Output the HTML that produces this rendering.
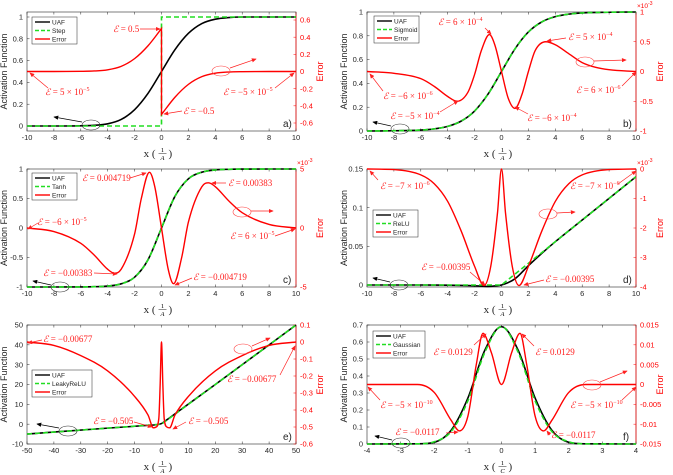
<!DOCTYPE html>
<html><head><meta charset="utf-8">
<style>
html,body{margin:0;padding:0;background:#fff;}
svg{display:block;font-family:"Liberation Sans",sans-serif;}
.ann{font-family:"Liberation Serif",serif;font-size:9px;fill:#ff2020;}
.tk{font-size:7.5px;}
</style></head>
<body>
<svg id="fig" width="673" height="475" viewBox="0 0 673 475">
<defs>
<marker id="ar" markerWidth="7" markerHeight="6" refX="6" refY="3" orient="auto"><path d="M0,0 L7,3 L0,6 Z" fill="#ff2020"/></marker>
<marker id="ak" markerWidth="7" markerHeight="6" refX="6" refY="3" orient="auto"><path d="M0,0 L7,3 L0,6 Z" fill="#000"/></marker>
</defs>
</svg>
<script>
// ---------- data ----------
// panel a
const aUafX=[-10,-8,-6,-5,-4,-3,-2,-1,0,1,2,3,4,5,6,8,10];
const aUafY=[0,0,0.002,0.006,0.02,0.06,0.15,0.3,0.5,0.7,0.85,0.94,0.98,0.995,1,1,1];
const aStepX=[-10,0,null,0,10];
const aStepY=[0,0,null,1,1];
const aErrX=[-10,-8,-6,-5,-4,-3,-2,-1,0,null,0,1,2,3,4,5,6,8,10];
const aErrY=[0,0,0.002,0.006,0.02,0.06,0.15,0.3,0.5,null,-0.5,-0.3,-0.15,-0.06,-0.02,-0.006,-0.002,0,0];
// panel b
const bUafX=[-10,-8,-6,-5,-4,-3,-2,-1,0,1,2,3,4,5,6,8,10];
const bUafY=[0,0.002,0.008,0.018,0.039,0.083,0.168,0.31,0.5,0.69,0.832,0.917,0.961,0.982,0.992,0.998,1];
const bSigY=[0,0.002,0.008,0.018,0.039,0.083,0.168,0.31,0.5,0.69,0.832,0.917,0.961,0.982,0.992,0.998,1];
const bErrX=[-10,-8,-6,-5,-4,-3.3,-2.5,-2,-1.5,-0.9,-0.5,0,0.5,1,1.5,2,2.5,3.3,4,5,6,7,8,10];
const bErrY=[0,-0.03,-0.12,-0.25,-0.42,-0.5,-0.35,-0.05,0.35,0.62,0.45,0,-0.45,-0.62,-0.4,0,0.35,0.5,0.45,0.3,0.15,0.07,0.03,0];
// panel c
const cUafX=[-10,-8,-6,-5,-4,-3,-2,-1,0,1,2,3,4,5,6,8,10];
const cUafY=[-1,-0.9998,-0.9985,-0.995,-0.984,-0.946,-0.834,-0.537,0,0.537,0.834,0.946,0.984,0.995,0.9985,0.9998,1];
const cTanhY=[-1,-0.9998,-0.9985,-0.995,-0.984,-0.946,-0.834,-0.537,0,0.537,0.834,0.946,0.984,0.995,0.9985,0.9998,1];
const cErrX=[-10,-8,-6,-5,-4,-3.5,-3,-2,-1.5,-0.9,-0.5,0,0.5,0.9,1.5,2,3,3.5,4,5,6,8,10];
const cErrY=[0,-0.3,-1.3,-2.3,-3.5,-3.83,-3.5,-0.5,2.5,4.72,3.5,0,-3.5,-4.72,-2.5,0.5,3.5,3.83,3.5,2.3,1.3,0.3,0];
// panel d
const dUafX=[-10,-6,-4,-2,-1,-0.5,0,1,2,3,4,6,8,10];
const dUafY=[0,0,-0.0002,-0.001,-0.0018,-0.0012,0,0.008,0.025,0.041,0.056,0.084,0.112,0.14];
const dReluX=[-10,0,10];
const dReluY=[0,0,0.14];
const dErrX=[-10,-8,-6,-5,-4,-3,-2,-1.3,-0.8,-0.3,0,0.3,0.8,1.3,2,3,4,5,6,8,10];
const dErrY=[0,-0.02,-0.2,-0.5,-1.1,-2.1,-3.3,-3.95,-3.3,-1.5,0,-1.5,-3.3,-3.95,-3.3,-2.1,-1.1,-0.5,-0.2,-0.02,0];
// panel e
const eUafX=[-50,-20,-5,-2,0,2,5,20,50];
const eUafY=[-5,-2,-0.6,-0.3,0.3,2.2,5.2,20,50];
const eLeakyX=[-50,0,50];
const eLeakyY=[-5,0,50];
const eErrX=[-50,-40,-30,-20,-10,-5,-3,-2,-1,-0.5,0,0.5,1,2,3,5,10,20,30,40,50];
const eErrY=[0,-0.02,-0.08,-0.17,-0.32,-0.43,-0.505,-0.5,-0.45,-0.25,0,-0.25,-0.45,-0.5,-0.505,-0.43,-0.32,-0.17,-0.08,-0.02,0];
// panel f
const fUafX=[-4,-2.5,-2,-1.5,-1,-0.5,0,0.5,1,1.5,2,2.5,4];
const fUafY=[0,0.001,0.01,0.08,0.27,0.55,0.69,0.55,0.27,0.08,0.01,0.001,0];
const fGaussY=[0,0.001,0.013,0.073,0.254,0.537,0.69,0.537,0.254,0.073,0.013,0.001,0];
const fErrX=[-4,-2.5,-2,-1.5,-1.25,-1,-0.75,-0.55,-0.3,0,0.3,0.55,0.75,1,1.25,1.5,2,2.5,4];
const fErrY=[0,0,-0.002,-0.009,-0.0117,-0.008,0.005,0.0129,0.008,0,0.008,0.0129,0.005,-0.008,-0.0117,-0.009,-0.002,0,0];

// ---------- helpers ----------
const svg=document.getElementById('fig');
const NS='http://www.w3.org/2000/svg';
function mk(tag,attrs,parent){const e=document.createElementNS(NS,tag);for(const k in attrs)e.setAttribute(k,attrs[k]);(parent||svg).appendChild(e);return e;}
function lin(v1,p1,v2,p2){return v=>p1+(v-v1)*(p2-p1)/(v2-v1);}
function mono(pts,linear){
  const n=pts.length; if(n<2) return '';
  let d='';
  if(n===2||linear){for(let i=1;i<n;i++)d+='L'+pts[i][0].toFixed(2)+','+pts[i][1].toFixed(2);return d;}
  const dx=[],s=[],m=[];
  for(let i=0;i<n-1;i++){dx.push(pts[i+1][0]-pts[i][0]);s.push((pts[i+1][1]-pts[i][1])/dx[i]);}
  m[0]=s[0];m[n-1]=s[n-2];
  for(let i=1;i<n-1;i++){m[i]=(s[i-1]*s[i]<=0)?0:(s[i-1]+s[i])/2;}
  for(let i=0;i<n-1;i++){if(s[i]===0){m[i]=0;m[i+1]=0;continue;}const a=m[i]/s[i],b=m[i+1]/s[i],h=a*a+b*b;if(h>9){const t=3/Math.sqrt(h);m[i]=t*a*s[i];m[i+1]=t*b*s[i];}}
  for(let i=0;i<n-1;i++){const h=dx[i];
    d+='C'+(pts[i][0]+h/3).toFixed(2)+','+(pts[i][1]+m[i]*h/3).toFixed(2)+' '+(pts[i+1][0]-h/3).toFixed(2)+','+(pts[i+1][1]-m[i+1]*h/3).toFixed(2)+' '+pts[i+1][0].toFixed(2)+','+pts[i+1][1].toFixed(2);}
  return d;
}
function seriesPath(xs,ys,X,Y,linear){
  const segs=[[]];
  for(let i=0;i<xs.length;i++){if(xs[i]===null){segs.push([]);continue;}segs[segs.length-1].push([X(xs[i]),Y(ys[i])]);}
  let d='';
  segs.forEach((sg,k)=>{if(!sg.length)return;d+=(k===0?'M':'L')+sg[0][0].toFixed(2)+','+sg[0][1].toFixed(2)+mono(sg,linear);});
  return d;
}
function ann(x,y,main,sup,anchor,parent){
  const t=mk('text',{x:x,y:y,'class':'ann','text-anchor':anchor||'start'},parent);
  
  
  const a=mk('tspan',{'font-style':'italic'},t);a.textContent='ℰ';
  const b=mk('tspan',{},t);b.textContent=' = '+main;
  if(sup){const c=mk('tspan',{dy:-4,'font-size':'6px'},t);c.textContent=sup;}
  return t;
}
function arrow(x1,y1,x2,y2,col,parent){
  const l=mk('line',{x1:x1,y1:y1,x2:x2,y2:y2,stroke:col==='k'?'#000':'#ff2020','stroke-width':0.7,'marker-end':col==='k'?'url(#ak)':'url(#ar)'},parent);
  
  
}
function ell(cx,cy,col,parent){
  const e=mk('ellipse',{cx:cx,cy:cy,rx:9,ry:5,fill:'none',stroke:col==='k'?'#333':'#ff4040','stroke-width':0.6},parent);
  
  
}
function fmt(v){return (Math.round(v*10000)/10000).toString();}

function panel(P){
  const g=mk('g',{});
  
  
  const X=lin(P.xd[0],P.x0,P.xd[1],P.x1);
  const YL=lin(P.la[0],P.la[1],P.la[2],P.la[3]);
  const YR=lin(P.ra[0],P.ra[1],P.ra[2],P.ra[3]);
  const bx=mk('rect',{x:P.x0,y:P.y0,width:P.x1-P.x0,height:P.y1-P.y0,fill:'none',stroke:'#262626','stroke-width':0.6},g);
  
  
  mk('line',{x1:P.x1,y1:P.y0,x2:P.x1,y2:P.y1,stroke:'#ff0000','stroke-width':0.7},g);
  P.xt.forEach(v=>{const x=X(v);
    mk('line',{x1:x,y1:P.y1,x2:x,y2:P.y1-2.5,stroke:'#262626','stroke-width':0.5},g);
    mk('line',{x1:x,y1:P.y0,x2:x,y2:P.y0+2.5,stroke:'#262626','stroke-width':0.5},g);
    const t=mk('text',{x:x,y:P.y1+9,'class':'tk','text-anchor':'middle',fill:'#262626'},g);
    
    
    t.textContent=fmt(v);});
  P.lt.forEach(v=>{const y=YL(v);
    mk('line',{x1:P.x0,y1:y,x2:P.x0+2.5,y2:y,stroke:'#262626','stroke-width':0.5},g);
    const t=mk('text',{x:P.x0-4,y:y+2.6,'class':'tk','text-anchor':'end',fill:'#262626'},g);
    
    
    t.textContent=fmt(v);});
  P.rt.forEach(v=>{const y=YR(v);
    mk('line',{x1:P.x1,y1:y,x2:P.x1-2.5,y2:y,stroke:'#ff0000','stroke-width':0.5},g);
    const t=mk('text',{x:P.x1+4,y:y+2.6,'class':'tk','text-anchor':'start',fill:'#ff0000'},g);
    
    
    t.textContent=fmt(v);});
  if(P.exp){const t=mk('text',{x:P.x1+1,y:P.y0-4,'font-size':'6.5px',fill:'#ff0000'},g);
    
    
    t.textContent='×10';const s=mk('tspan',{dy:-3,'font-size':'5px'},t);s.textContent='-3';}
  const cy=(P.y0+P.y1)/2, cx=(P.x0+P.x1)/2;
  const yl=mk('text',{x:0,y:0,'font-size':'9px',fill:'#262626','text-anchor':'middle',transform:'translate('+(P.x0-20)+','+cy+') rotate(-90)'},g);
  
  
  yl.textContent='Activation Function';
  const yr=mk('text',{x:0,y:0,'font-size':'9px',fill:'#ff0000','text-anchor':'middle',transform:'translate('+(P.x1+27)+','+cy+') rotate(-90)'},g);
  
  
  yr.textContent='Error';
  const xl=mk('g',{},g);
  
  
  const tx=mk('text',{x:cx-6,y:P.y1+26,'font-size':'11px','font-family':'Liberation Serif,serif','text-anchor':'end',fill:'#262626'},xl);tx.textContent='x (';
  const n1=mk('text',{x:cx+1,y:P.y1+21,'font-size':'6.5px','font-family':'Liberation Serif,serif','text-anchor':'middle'},xl);n1.textContent='1';
  mk('line',{x1:cx-3,y1:P.y1+22.5,x2:cx+5,y2:P.y1+22.5,stroke:'#262626','stroke-width':0.5},xl);
  const n2=mk('text',{x:cx+1,y:P.y1+29,'font-size':'6.5px','font-family':'Liberation Serif,serif','font-style':'italic','text-anchor':'middle'},xl);n2.textContent=P.den;
  const tx2=mk('text',{x:cx+7,y:P.y1+26,'font-size':'11px','font-family':'Liberation Serif,serif',fill:'#262626'},xl);tx2.textContent=')';
  const clipId='clip'+P.id;
  const cp=mk('clipPath',{id:clipId},g);mk('rect',{x:P.x0,y:P.y0-1,width:P.x1-P.x0,height:P.y1-P.y0+2},cp);
  const sg=mk('g',{'clip-path':'url(#'+clipId+')'},g);
  const p1=mk('path',{d:seriesPath(P.ux,P.uy,X,YL,false),fill:'none',stroke:'#000','stroke-width':1.6},sg);
  
  
  const p2=mk('path',{d:seriesPath(P.rx,P.ry,X,YL,!!P.rlin),fill:'none',stroke:'#22dd22','stroke-width':1.6,'stroke-dasharray':'5,3'},sg);
  
  
  const p3=mk('path',{d:seriesPath(P.ex,P.ey,X,YR,false),fill:'none',stroke:'#ff0000','stroke-width':1.4},sg);
  
  
  const L=mk('g',{},g);
  
  
  mk('rect',{x:P.lg[0],y:P.lg[1],width:P.lg[2],height:27,fill:'#fff',stroke:'#262626','stroke-width':0.5},L);
  const ent=[['UAF','#000',''],[P.refName,'#22dd22','4,2'],['Error','#ff0000','']];
  ent.forEach((e,i)=>{const y=P.lg[1]+5+i*8.5;
    const li=mk('line',{x1:P.lg[0]+3,y1:y,x2:P.lg[0]+18,y2:y,stroke:e[1],'stroke-width':1.4,'stroke-dasharray':e[2]},L);
    
    
    const t=mk('text',{x:P.lg[0]+20,y:y+2.3,'font-size':'6.5px',fill:'#262626'},L);
    
    
    t.textContent=e[0];});
  const pl=mk('text',{x:P.x1-13,y:P.y1-4,'font-size':'10px',fill:'#262626'},g);
  
  
  pl.textContent=P.id+')';
  return g;
}

panel({id:'a',x0:27,x1:296,y0:12,y1:131,xd:[-10,10],la:[0,126,1,17],ra:[-0.6,123,0.6,20],rlin:true,
  xt:[-10,-8,-6,-4,-2,0,2,4,6,8,10],lt:[0,0.2,0.4,0.6,0.8,1],rt:[-0.6,-0.4,-0.2,0,0.2,0.4,0.6],
  ux:aUafX,uy:aUafY,rx:aStepX,ry:aStepY,ex:aErrX,ey:aErrY,refName:'Step',lg:[32,17,45],den:'A'});
panel({id:'b',x0:367,x1:636,y0:12,y1:131,xd:[-10,10],la:[0,131,1,12],ra:[-1,131,1,12],exp:true,
  xt:[-10,-8,-6,-4,-2,0,2,4,6,8,10],lt:[0,0.2,0.4,0.6,0.8,1],rt:[-1,-0.5,0,0.5,1],
  ux:bUafX,uy:bUafY,rx:bUafX,ry:bSigY,ex:bErrX,ey:bErrY,refName:'Sigmoid',lg:[374,16,45],den:'A'});
panel({id:'c',x0:27,x1:296,y0:169,y1:287,xd:[-10,10],la:[-1,287,1,169],ra:[-5,287,5,169],exp:true,
  xt:[-10,-8,-6,-4,-2,0,2,4,6,8,10],lt:[-1,-0.5,0,0.5,1],rt:[-5,0,5],
  ux:cUafX,uy:cUafY,rx:cUafX,ry:cTanhY,ex:cErrX,ey:cErrY,refName:'Tanh',lg:[32,173,45],den:'A'});
panel({id:'d',x0:367,x1:636,y0:169,y1:287,xd:[-10,10],la:[0,285,0.15,169],ra:[-4,287,0,169],exp:true,rlin:true,
  xt:[-10,-8,-6,-4,-2,0,2,4,6,8,10],lt:[0,0.05,0.1,0.15],rt:[-4,-3,-2,-1,0],
  ux:dUafX,uy:dUafY,rx:dReluX,ry:dReluY,ex:dErrX,ey:dErrY,refName:'ReLU',lg:[373,210,45],den:'A'});
panel({id:'e',x0:27,x1:296,y0:325,y1:444,xd:[-50,50],la:[-10,444,50,325],ra:[-0.6,444,0.1,325],rlin:true,
  xt:[-50,-40,-30,-20,-10,0,10,20,30,40,50],lt:[-10,0,10,20,30,40,50],rt:[-0.6,-0.5,-0.4,-0.3,-0.2,-0.1,0,0.1],
  ux:eUafX,uy:eUafY,rx:eLeakyX,ry:eLeakyY,ex:eErrX,ey:eErrY,refName:'LeakyReLU',lg:[32,370,60],den:'A'});
panel({id:'f',x0:367,x1:636,y0:325,y1:444,xd:[-4,4],la:[0,444,0.7,325],ra:[-0.015,444,0.015,325],
  xt:[-4,-3,-2,-1,0,1,2,3,4],lt:[0,0.1,0.2,0.3,0.4,0.5,0.6,0.7],rt:[-0.015,-0.01,-0.005,0,0.005,0.01,0.015],
  ux:fUafX,uy:fUafY,rx:fUafX,ry:fGaussY,ex:fErrX,ey:fErrY,refName:'Gaussian',lg:[373,331,52],den:'C'});

// ---------- annotations ----------
const A=mk('g',{});


// a
ann(113,32,'0.5','',null,A);arrow(140,29,160,29,'r',A);
ann(45,95,'5 × 10','−5',null,A);arrow(48,88,30,73,'r',A);
ann(223,95,'−5 × 10','−5',null,A);arrow(275,88,294,73,'r',A);
ann(183,114,'−0.5','',null,A);arrow(182,111,164,114,'r',A);
ell(221,71,'r',A);arrow(230,68,256,59,'r',A);
ell(91,125,'k',A);arrow(82,122,54,117,'k',A);
// b
ann(438,25,'6 × 10','−4',null,A);arrow(485,28,491,34,'r',A);
ann(568,40,'5 × 10','−4',null,A);arrow(566,38,547,41,'r',A);
ann(383,99,'−6 × 10','−6',null,A);arrow(383,91,370,74,'r',A);
ann(390,119,'−5 × 10','−4',null,A);arrow(440,112,458,101,'r',A);
ann(527,121,'−6 × 10','−4',null,A);arrow(528,114,515,107,'r',A);
ann(576,93,'6 × 10','−6',null,A);arrow(622,86,636,72,'r',A);
ell(585,62,'r',A);arrow(594,61,626,60,'r',A);
ell(400,129,'k',A);arrow(391,126,373,122,'k',A);
// c
ann(82,181,'0.004719','',null,A);arrow(130,178,146,173,'r',A);
ann(228,186,'0.00383','',null,A);arrow(226,183,212,183,'r',A);
ann(37,225,'−6 × 10','−5',null,A);arrow(38,223,28,229,'r',A);
ann(43,276,'−0.00383','',null,A);arrow(94,273,117,274,'r',A);
ann(193,280,'−0.004719','',null,A);arrow(192,278,175,285,'r',A);
ann(230,239,'6 × 10','−5',null,A);arrow(275,236,295,229,'r',A);
ell(242,212,'r',A);arrow(251,211,273,211,'r',A);
ell(60,287,'k',A);arrow(51,285,33,281,'k',A);
// d
ann(380,189,'−7 × 10','−6',null,A);arrow(378,180,370,171,'r',A);
ann(570,189,'−7 × 10','−6',null,A);arrow(618,184,636,171,'r',A);
ann(421,270,'−0.00395','',null,A);arrow(470,272,485,285,'r',A);
ann(545,282,'−0.00395','',null,A);arrow(544,280,524,285,'r',A);
ell(548,214,'r',A);arrow(557,213,575,212,'r',A);
ell(399,285,'k',A);arrow(390,282,373,278,'k',A);
// e
ann(43,342,'−0.00677','',null,A);arrow(42,340,28,343,'r',A);
ann(227,382,'−0.00677','',null,A);arrow(280,375,295,346,'r',A);
ann(93,424,'−0.505','',null,A);arrow(134,422,152,427,'r',A);
ann(188,424,'−0.505','',null,A);arrow(186,422,173,429,'r',A);
ell(243,349,'r',A);arrow(252,346,270,338,'r',A);
ell(68,431,'k',A);arrow(59,428,37,424,'k',A);
// f
ann(433,355,'0.0129','',null,A);arrow(474,345,486,334,'r',A);
ann(535,355,'0.0129','',null,A);arrow(534,346,522,334,'r',A);
ann(380,408,'−5 × 10','−10',null,A);arrow(380,400,368,387,'r',A);
ann(570,408,'−5 × 10','−10',null,A);arrow(622,400,636,387,'r',A);
ann(395,435,'−0.0117','',null,A);arrow(446,433,458,432,'r',A);
ann(551,438,'−0.0117','',null,A);arrow(550,435,547,431,'r',A);
ell(592,385,'r',A);arrow(600,382,627,371,'r',A);
ell(401,443,'k',A);arrow(392,440,375,436,'k',A);
</script>
</body></html>
